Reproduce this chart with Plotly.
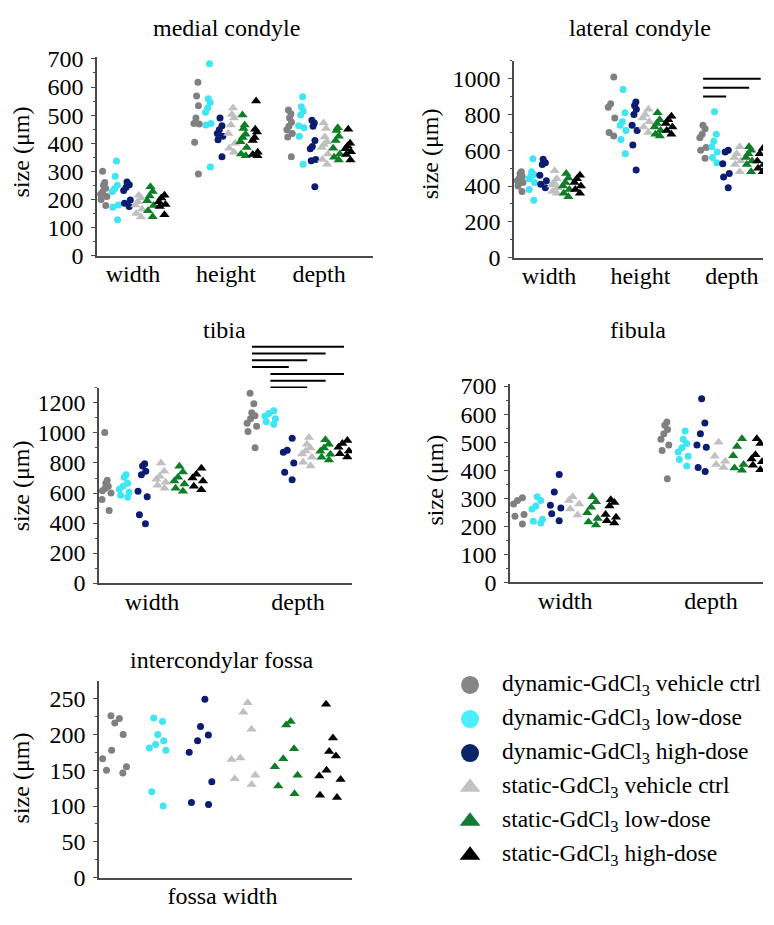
import plotly.graph_objects as go

FONT = "Liberation Serif"
AXIS_COLOR = "#4a4a4a"
FS = 24

# ---------------- groups ----------------
group_names = [
    "dynamic-GdCl<sub>3</sub> vehicle ctrl",
    "dynamic-GdCl<sub>3</sub> low-dose",
    "dynamic-GdCl<sub>3</sub> high-dose",
    "static-GdCl<sub>3</sub> vehicle ctrl",
    "static-GdCl<sub>3</sub> low-dose",
    "static-GdCl<sub>3</sub> high-dose",
]
group_colors = ["#808080", "#3de6f2", "#0c1c72", "#c0c0c0", "#0d7d26", "#000000"]
legend_colors = ["#868686", "#4aeefc", "#0b2566", "#c3c3c3", "#137a36", "#000000"]
group_symbols = ["circle", "circle", "circle", "triangle-up", "triangle-up", "triangle-up"]

# ---------------- medial condyle (µm) ----------------
medial_categories = ["width", "height", "depth"]
medial_width = [
    [300, 260, 250, 240, 228, 218, 210, 200, 178],
    [337, 282, 250, 238, 228, 180, 172, 128],
    [262, 252, 243, 232, 198, 186, 175],
    [215, 205, 192, 180, 165, 150, 137],
    [245, 228, 212, 195, 178, 160, 138],
    [215, 205, 192, 182, 175, 145],
]
medial_height = [
    [617, 568, 533, 490, 470, 468, 403, 290],
    [683, 558, 545, 525, 510, 470, 465, 315],
    [490, 462, 448, 435, 425, 412, 352],
    [525, 502, 490, 465, 435, 400, 382, 368],
    [500, 465, 452, 432, 420, 405, 385, 362, 355],
    [550, 450, 440, 420, 410, 368, 360, 355],
]
medial_depth = [
    [518, 505, 490, 475, 460, 448, 435, 422, 352],
    [565, 530, 515, 500, 462, 455, 425, 325],
    [482, 472, 460, 410, 388, 380, 342, 338, 245],
    [472, 452, 422, 405, 395, 385, 362, 342, 325],
    [455, 445, 425, 410, 382, 362, 350, 340],
    [450, 400, 390, 380, 370, 360, 340],
]

# ---------------- lateral condyle (µm) ----------------
lateral_categories = ["width", "height", "depth"]
lateral_width = [
    [480, 470, 455, 445, 430, 420, 400, 370],
    [552, 480, 465, 455, 440, 420, 380, 320],
    [550, 530, 520, 460, 430, 410, 390],
    [485, 440, 420, 405, 390, 370, 360],
    [470, 445, 420, 400, 380, 360, 340],
    [460, 440, 420, 400, 380, 360],
]
lateral_height = [
    [1010, 860, 840, 780, 700, 680],
    [940, 810, 760, 740, 710, 660, 580],
    [870, 850, 830, 800, 740, 710, 630, 490],
    [830, 800, 780, 760, 730, 700],
    [810, 770, 750, 730, 710, 690, 680],
    [790, 770, 750, 730, 710, 690],
]
lateral_depth = [
    [740, 720, 690, 670, 615, 600, 555],
    [815, 690, 650, 620, 590, 560, 530],
    [600, 590, 525, 470, 450, 390],
    [620, 580, 560, 540, 520, 480],
    [620, 600, 580, 560, 540, 520, 480],
    [610, 580, 540, 520, 500, 480],
]
# significance bars: (category index, from group, to group, height)
lateral_sig = [(3, 0, 2, 900), (3, 0, 4, 950), (3, 0, 5, 1000)]

# ---------------- tibia (µm) ----------------
tibia_categories = ["width", "depth"]
tibia_width = [
    [1003, 685, 665, 645, 630, 615, 600, 556, 484],
    [722, 705, 665, 645, 625, 605, 585, 572],
    [795, 780, 745, 722, 612, 575, 455, 395],
    [800, 745, 712, 692, 672, 652, 632],
    [778, 740, 705, 680, 660, 632, 612],
    [765, 725, 700, 680, 645, 622],
]
tibia_depth = [
    [1265, 1195, 1135, 1115, 1095, 1065, 1045, 1010, 902],
    [1148, 1130, 1112, 1095, 1075, 1058],
    [965, 885, 872, 800, 738, 688],
    [970, 925, 900, 880, 860, 838, 805, 780],
    [955, 925, 900, 878, 858, 838, 820],
    [950, 930, 905, 880, 862, 840],
]
tibia_sig = [
    (2, 0, 5, 1576), (2, 0, 4, 1530), (2, 0, 3, 1485), (2, 0, 2, 1440),
    (2, 1, 5, 1394), (2, 1, 4, 1349), (2, 1, 3, 1303), (2, 1, 2, 1258),
]

# ---------------- fibula (µm) ----------------
fibula_categories = ["width", "depth"]
fibula_width = [
    [302, 292, 280, 242, 236, 208],
    [305, 292, 272, 262, 225, 218, 212],
    [385, 322, 275, 265, 245, 220],
    [305, 292, 280, 262, 240],
    [305, 288, 268, 248, 228, 215, 205],
    [295, 285, 272, 242, 232, 220, 212],
]
fibula_depth = [
    [572, 560, 545, 530, 510, 490, 470, 370],
    [540, 510, 495, 480, 465, 450, 438, 415],
    [655, 568, 530, 490, 482, 410, 395],
    [500, 450, 432, 420, 410],
    [512, 485, 452, 420, 408, 400],
    [512, 495, 455, 440, 430, 418, 402],
]

# ---------------- intercondylar fossa (µm) ----------------
fossa_categories = ["fossa width"]
fossa_width = [
    [226, 222, 216, 200, 178, 166, 155, 150, 146],
    [223, 218, 200, 191, 186, 181, 178, 120, 100],
    [249, 211, 199, 191, 175, 134, 105, 102],
    [244, 231, 207, 167, 165, 143, 138, 130],
    [218, 213, 180, 166, 155, 143, 128, 117],
    [242, 195, 176, 170, 150, 142, 137, 115, 112],
]

GSTEP = 0.126  # spacing between the six groups inside a category

# page body has an 8px margin: figure is 758x909 placed at (8, 8) so it fits the window
W, H, OFF = 758, 909, 8


def fx(p):
    return (p - OFF) / W


def fy(p):
    return 1 - (p - OFF) / H


panels = [
    dict(n="", title="medial condyle", cats=medial_categories,
         data=[medial_width, medial_height, medial_depth], sig=[],
         xpx=(97, 373), ypx=(251, 47), xr=[0.613, 3.58], yr=[0, 707],
         dtick=100, minor=50, title_py=17, ytitle_px=(21, 145)),
    dict(n="2", title="lateral condyle", cats=lateral_categories,
         data=[lateral_width, lateral_height, lateral_depth], sig=lateral_sig,
         xpx=(514, 763), ypx=(253, 51), xr=[0.617, 3.34], yr=[0, 1100],
         dtick=200, minor=100, title_py=17, ytitle_px=(430, 147)),
    dict(n="3", title="tibia", cats=tibia_categories,
         data=[tibia_width, tibia_depth], sig=[],
         xpx=(99, 352), ypx=(587.3, 387), xr=[0.637, 2.37], yr=[0, 1300],
         dtick=200, minor=100, title_py=327, ytitle_px=(21, 488)),
    dict(n="4", title="fibula", cats=fibula_categories,
         data=[fibula_width, fibula_depth], sig=[],
         xpx=(510, 763), ypx=(586.7, 383.3), xr=[0.623, 2.356], yr=[0, 706],
         dtick=100, minor=50, title_py=327, ytitle_px=(435, 482)),
    dict(n="5", title="intercondylar fossa", cats=fossa_categories,
         data=[fossa_width], sig=[],
         xpx=(99, 352), ypx=(890, 688.3), xr=[0.637, 1.381], yr=[0, 274],
         dtick=50, minor=25, title_py=666, ytitle_px=(21, 788)),
]

fig = go.Figure()
layout = {}
shapes = []
annotations = []


def add_sig(xa, ya, sig):
    for (c, g0, g1, h) in sig:
        shapes.append(dict(type="line", xref=xa, yref=ya,
                           x0=c + (g0 - 2.5) * GSTEP, x1=c + (g1 - 2.5) * GSTEP,
                           y0=h, y1=h, line=dict(color="black", width=2)))


for p in panels:
    xa, ya = "x" + p["n"], "y" + p["n"]
    for ci, cat in enumerate(p["data"]):
        for k, vals in enumerate(cat):
            pos = ci + 1 + (k - 2.5) * GSTEP
            fig.add_trace(go.Box(
                y=vals, x0=pos, width=GSTEP, xaxis=xa, yaxis=ya,
                boxpoints="all", jitter=0.7, pointpos=0,
                fillcolor="rgba(0,0,0,0)", line=dict(width=0, color="rgba(0,0,0,0)"),
                marker=dict(color=group_colors[k], symbol=group_symbols[k],
                            size=7 if k < 3 else 9, line=dict(width=0)),
                showlegend=False, hoveron="points",
            ))
    add_sig(xa, ya, p["sig"])
    xdom = [fx(p["xpx"][0]), fx(p["xpx"][1])]
    ydom = [fy(p["ypx"][0]), fy(p["ypx"][1])]
    layout["xaxis" + p["n"]] = dict(
        domain=xdom, range=p["xr"], type="linear", anchor=ya,
        tickvals=list(range(1, len(p["cats"]) + 1)), ticktext=p["cats"],
        ticks="", showline=True, linecolor=AXIS_COLOR, linewidth=1.5,
        showgrid=False, zeroline=False, ticklabelstandoff=-4,
        tickfont=dict(family=FONT, size=FS, color="black"))
    layout["yaxis" + p["n"]] = dict(
        domain=ydom, range=p["yr"], anchor=xa,
        showline=True, linecolor=AXIS_COLOR, linewidth=1.5,
        ticks="outside", ticklen=4, tickwidth=1, tickcolor=AXIS_COLOR,
        tick0=0, dtick=p["dtick"], ticklabelstandoff=3,
        minor=dict(dtick=p["minor"], tick0=0, ticks="outside", ticklen=2,
                   tickcolor=AXIS_COLOR, showgrid=False),
        showgrid=False, zeroline=False,
        tickfont=dict(family=FONT, size=FS, color="black"))
    mid = (1 + len(p["cats"])) / 2
    annotations.append(dict(xref=xa, yref="paper", x=mid, y=fy(p["title_py"]), text=p["title"],
                            showarrow=False, xanchor="center", yanchor="middle",
                            font=dict(family=FONT, size=FS, color="black")))
    annotations.append(dict(xref="paper", yref="paper", x=fx(p["ytitle_px"][0]),
                            y=fy(p["ytitle_px"][1]), text="size (μm)", textangle=-90,
                            showarrow=False, xanchor="center", yanchor="middle",
                            font=dict(family=FONT, size=FS, color="black")))

# tibia significance bars sit above the axis top, in a thin invisible subplot
layout["xaxis7"] = dict(domain=[fx(99), fx(352)], range=[0.637, 2.37], visible=False, anchor="y7")
layout["yaxis7"] = dict(domain=[fy(387), fy(340.9)], range=[1300, 1600], visible=False, anchor="x7")
fig.add_trace(go.Scatter(x=[None], y=[None], xaxis="x7", yaxis="y7", showlegend=False))
add_sig("x7", "y7", tibia_sig)

# ---------------- manual legend ----------------
legend_rows = list(range(6))
marker_x = 0.134
text_x = 0.225
for k in legend_rows:
    fig.add_trace(go.Scatter(x=[marker_x], y=[k], mode="markers", xaxis="x6", yaxis="y6",
                             marker=dict(color=legend_colors[k], symbol=group_symbols[k], size=18,
                                         line=dict(width=0)),
                             showlegend=False, hoverinfo="skip"))
    annotations.append(dict(xref="x6", yref="y6", x=text_x, y=k, text=group_names[k],
                            showarrow=False, xanchor="left", yanchor="middle",
                            font=dict(family=FONT, size=23.5, color="black")))
layout["xaxis6"] = dict(domain=[fx(426), 1.0], range=[0, 1.0345], visible=False, anchor="y6")
layout["yaxis6"] = dict(domain=[fy(884.5), fy(674.5)], range=[5.5, -0.5], visible=False, anchor="x6")

fig.update_layout(
    width=W, height=H, margin=dict(l=0, r=0, t=0, b=0),
    paper_bgcolor="white", plot_bgcolor="rgba(0,0,0,0)",
    boxmode="overlay", boxgap=0, boxgroupgap=0,
    showlegend=False, shapes=shapes, annotations=annotations,
    font=dict(family=FONT, color="black"),
    **layout,
)

fig.write_html("out.html")
